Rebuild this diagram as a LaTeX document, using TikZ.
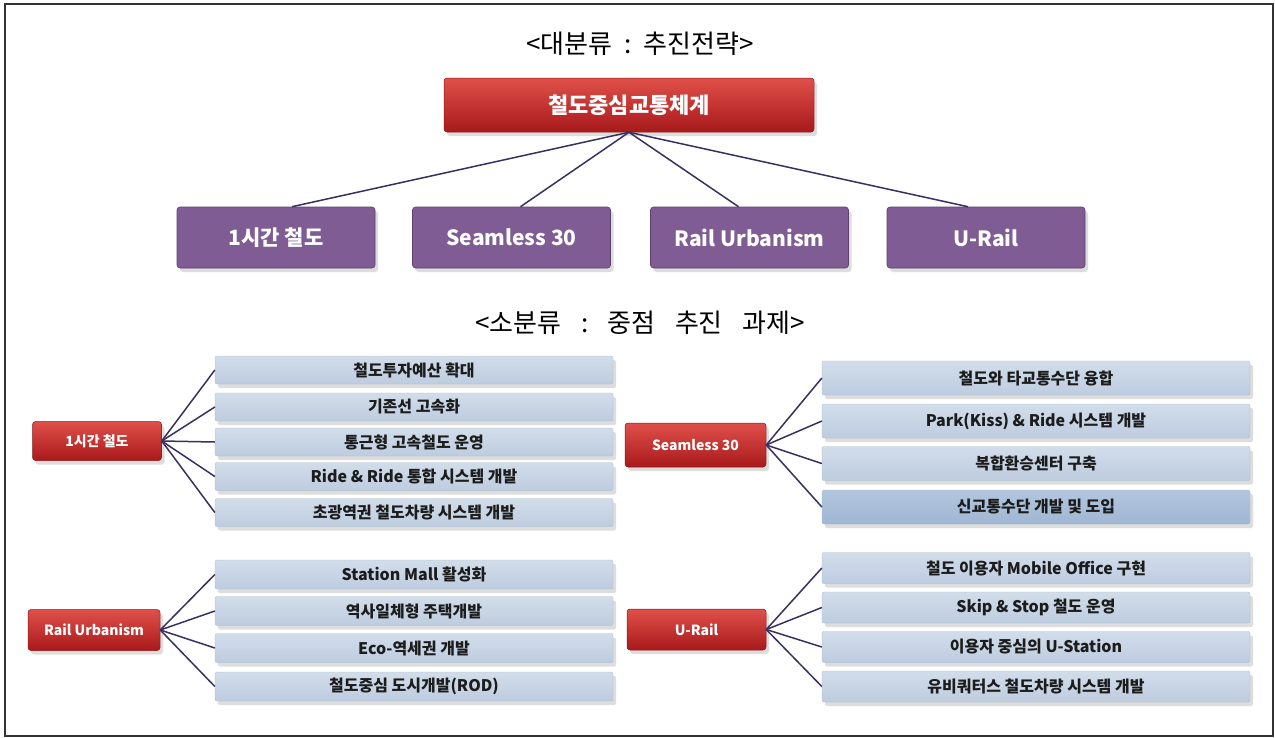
\documentclass[tikz,border=0pt]{standalone}
\usepackage{fontspec}
\setmainfont{Noto Sans CJK KR}
\usetikzlibrary{shadows,calc}
\definecolor{redtop}{HTML}{E0504A}
\definecolor{redbot}{HTML}{A8191B}
\definecolor{purp}{HTML}{805C94}
\definecolor{purpdark}{HTML}{5E4070}
\definecolor{bluetop}{HTML}{D2DDEA}
\definecolor{bluebot}{HTML}{BDCCDF}
\definecolor{bluedtop}{HTML}{B3C6DE}
\definecolor{bluedbot}{HTML}{9FB6D3}
\definecolor{linec}{HTML}{3A3060}
\definecolor{textc}{HTML}{1C1C1C}
\tikzset{
  shad/.style={drop shadow={shadow xshift=3pt, shadow yshift=-4pt, opacity=0.22, fill=black!60}},
  redbox/.style={shad, rounded corners=3pt, top color=redtop, bottom color=redbot, draw=redbot!85!black, line width=0.5pt, text=white, inner sep=0pt},
  purpbox/.style={shad, rounded corners=3pt, fill=purp, draw=purpdark, line width=0.6pt, text=white, inner sep=0pt, minimum width=198pt, minimum height=61pt, font=\bfseries\fontsize{21}{24}\selectfont},
  bluebox/.style={shad, rounded corners=2pt, top color=bluetop, bottom color=bluebot, draw=bluebot!90!black, line width=0.3pt, text=textc, inner sep=0pt, font=\bfseries\fontsize{16}{18}\selectfont},
  bluedbox/.style={bluebox, top color=bluedtop, bottom color=bluedbot},
  smallred/.style={redbox, font=\bfseries\fontsize{14}{16}\selectfont},
  conn/.style={draw=linec, line width=1.5pt},
  titletext/.style={font=\fontsize{26}{29}\selectfont, text=black, inner sep=0pt}
}
\begin{document}
\begin{tikzpicture}[x=1pt,y=-1pt]
\useasboundingbox (0,0) rectangle (1275,737);
\fill[white] (0,0) rectangle (1275,737);
\draw[line width=1.5pt, draw=black!80] (5,4) rectangle (1273,736);

% titles
\node[titletext] (t1) at (640,44) {<대분류\hspace{0.45em}:\hspace{0.45em}추진전략>};
\node[titletext] (t2) at (640,323) {<소분류\hspace{0.75em}:\hspace{0.75em}중점\hspace{0.75em}추진\hspace{0.75em}과제>};

% top level
\node[redbox, minimum width=370pt, minimum height=54pt, font=\bfseries\fontsize{22}{25}\selectfont] (top) at (629,105) {철도중심교통체계};

\node[purpbox] (p1) at (276,237.5) {1시간 철도};
\node[purpbox] (p2) at (511.5,237.5) {Seamless 30};
\node[purpbox] (p3) at (749.5,237.5) {Rail Urbanism};
\node[purpbox] (p4) at (986,237.5) {U-Rail};

\coordinate (e1) at ($(p1.north)+(16,0)$);
\coordinate (e2) at ($(p2.north)+(9,0)$);
\coordinate (e3) at ($(p3.north)+(-11,0)$);
\coordinate (e4) at ($(p4.north)+(-18,0)$);
\foreach \e in {e1,e2,e3,e4} \draw[conn] (top.south) -- (\e);

% group 1
\node[smallred, minimum width=129pt, minimum height=39pt] (g1) at (97,441) {1시간 철도};
\foreach \n/\y/\t in {a/370/철도투자예산 확대, b/407/기존선 고속화, c/442/통근형 고속철도 운영, d/476.5/Ride \& Ride 통합 시스템 개발, e/512.5/초광역권 철도차량 시스템 개발}{
  \node[bluebox, minimum width=398pt, minimum height=28pt] (g1\n) at (414,\y) {\t};
  \draw[conn] (g1.east) -- (g1\n.west);
}

% group 2
\node[smallred, minimum width=141pt, minimum height=44pt] (g2) at (695.5,445) {Seamless 30};
\foreach \n/\y/\t in {a/378/철도와 타교통수단 융합, b/421/Park(Kiss) \& Ride 시스템 개발, c/463.5/복합환승센터 구축}{
  \node[bluebox, minimum width=428pt, minimum height=34pt] (g2\n) at (1036,\y) {\t};
  \draw[conn] (g2.east) -- (g2\n.west);
}
\node[bluedbox, minimum width=428pt, minimum height=34pt] (g2d) at (1036,507) {신교통수단 개발 및 도입};
\draw[conn] (g2.east) -- (g2d.west);

% group 3
\node[smallred, minimum width=132pt, minimum height=41pt] (g3) at (94,630) {Rail Urbanism};
\foreach \n/\y/\t in {a/574.5/Station Mall 활성화, b/611/역사일체형 주택개발, c/648/Eco-역세권 개발, d/686.5/철도중심 도시개발(ROD)}{
  \node[bluebox, minimum width=398pt, minimum height=29pt] (g3\n) at (414,\y) {\t};
  \draw[conn] (g3.east) -- (g3\n.west);
}

% group 4
\node[smallred, minimum width=139pt, minimum height=41pt] (g4) at (696.5,629.5) {U-Rail};
\foreach \n/\y/\t in {a/568/철도 이용자 Mobile Office 구현, b/607.5/Skip \& Stop 철도 운영, c/647/이용자 중심의 U-Station, d/686.5/유비쿼터스 철도차량 시스템 개발}{
  \node[bluebox, minimum width=428pt, minimum height=31pt] (g4\n) at (1036,\y) {\t};
  \draw[conn] (g4.east) -- (g4\n.west);
}
\end{tikzpicture}
\end{document}
